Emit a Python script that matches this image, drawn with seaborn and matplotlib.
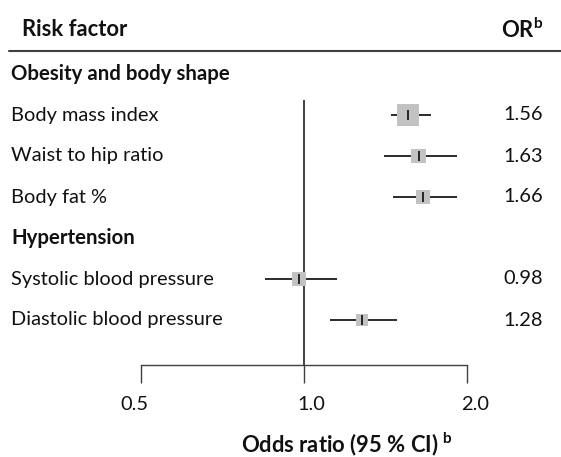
import matplotlib
matplotlib.use("Agg")
import matplotlib.pyplot as plt
from matplotlib.lines import Line2D
from matplotlib.transforms import blended_transform_factory, ScaledTranslation
import seaborn as sns
import pandas as pd

# Forest plot data
groups = ["Obesity and body shape", "Hypertension"]
factors = ["Body mass index", "Waist to hip ratio", "Body fat %",
           "Systolic blood pressure", "Diastolic blood pressure"]
factor_group = [0, 0, 0, 1, 1]
odds_ratio = [1.56, 1.63, 1.66, 0.98, 1.28]
ci_low = [1.45, 1.41, 1.46, 0.85, 1.12]
ci_high = [1.72, 1.92, 1.92, 1.15, 1.49]
weight = [100, 45, 45, 42, 31]
xticks = [0.5, 1.0, 2.0]
xtick_labels = ["0.5", "1.0", "2.0"]

sns.set_theme(style="white")
FONT = "Lato"
plt.rcParams["font.family"] = [FONT, "DejaVu Sans"]
plt.rcParams["mathtext.fontset"] = "custom"
plt.rcParams["mathtext.rm"] = FONT
plt.rcParams["mathtext.bf"] = FONT + ":bold"
FS = 14.4        # body text
FS_GROUP = 14.7  # bold group headings
FS_HEAD = 15.8   # column headers and axis title
TXT = "#111111"

W, H = 561, 457
fig = plt.figure(figsize=(W / 100, H / 100), dpi=100)

# Axis frame spans exactly the tick range 0.5 .. 2.0 (pixel layout)
x0, x1 = 140.7, 466.7
y_axis = 365.0
row0, row_step = 74.0, 41.0
ax = fig.add_axes([x0 / W, 1 - y_axis / H, (x1 - x0) / W, y_axis / H])
ax.set_xscale("log", base=2)
ax.set_xlim(0.5, 2.0)
ax.set_ylim((y_axis - row0) / row_step, (0 - row0) / row_step)

# Row layout: group header, then its factors
rows, group_rows = [], []
r = 0
for g in range(len(groups)):
    group_rows.append(r)
    r += 1
    for i, fg in enumerate(factor_group):
        if fg == g:
            rows.append(r)
            r += 1

df = pd.DataFrame({"factor": factors, "or": odds_ratio, "lo": ci_low,
                   "hi": ci_high, "w": weight, "row": rows})

# Line of no effect
ax.vlines(1.0, 0.63, ax.get_ylim()[0], color="#404040", lw=1.4, zorder=1)

# Confidence intervals
ax.hlines(df["row"], df["lo"], df["hi"], color="#1a1a1a", lw=1.3, zorder=2)

# Weighted squares
sns.scatterplot(data=df, x="or", y="row", size="w", sizes=(0, 250),
                size_norm=(0, 100), marker="s", color="#c2c2c2",
                edgecolor="none", linewidth=0, legend=False, ax=ax, zorder=3)

# Point estimates
ax.plot(df["or"], df["row"], ls="none", marker="|", ms=6.8, mew=1.3,
        color="#1a1a1a", zorder=4)

ax.set_xticks(xticks)
ax.set_xticklabels(xtick_labels)
ax.minorticks_off()
ax.tick_params(axis="x", direction="out", length=13.2, width=1.0,
               color="#404040", pad=9, labelsize=FS, labelcolor=TXT,
               bottom=True)
# nudge the tick labels sideways
for lab, dx in zip(ax.get_xticklabels(), [-6, 8, 8]):
    lab.set_transform(lab.get_transform()
                      + ScaledTranslation(dx / 100, 0, fig.dpi_scale_trans))
ax.set_yticks([])
for s in ["top", "left", "right"]:
    ax.spines[s].set_visible(False)
ax.spines["bottom"].set_color("#404040")
ax.spines["bottom"].set_linewidth(1.0)
ax.set_xlabel("")
ax.set_ylabel("")
ax.patch.set_alpha(0)

tr = blended_transform_factory(fig.transFigure, ax.transData)
lx = 11 / W
for g, gr in zip(groups, group_rows):
    ax.text(lx, gr, g, transform=tr, ha="left", va="center",
            fontsize=FS_GROUP, fontweight="bold", color=TXT, clip_on=False)
for f, rr, v in zip(factors, rows, odds_ratio):
    ax.text(lx, rr, f, transform=tr, ha="left", va="center", fontsize=FS,
            color=TXT, clip_on=False)
    ax.text(543 / W, rr, f"{v:.2f}", transform=tr, ha="right", va="center",
            fontsize=FS, color=TXT, clip_on=False)

# Header
fig.text(22 / W, 1 - 30 / H, "Risk factor", ha="left", va="center",
         fontsize=FS_HEAD, fontweight="bold", color=TXT)
fig.text(543 / W, 1 - 30 / H, r"OR$^{\mathbf{b}}$", ha="right", va="center",
         fontsize=FS_HEAD, fontweight="bold", color=TXT)
fig.add_artist(Line2D([9 / W, 1.0], [1 - 50.5 / H, 1 - 50.5 / H],
                      transform=fig.transFigure, color="#404040", lw=1.5))

# Axis title
fig.text(347 / W, 1 - 452 / H, r"Odds ratio (95 % CI) $^{\mathbf{b}}$",
         ha="center", va="baseline", fontsize=FS_HEAD, fontweight="bold",
         color=TXT)

fig.savefig("out.png", dpi=100)
